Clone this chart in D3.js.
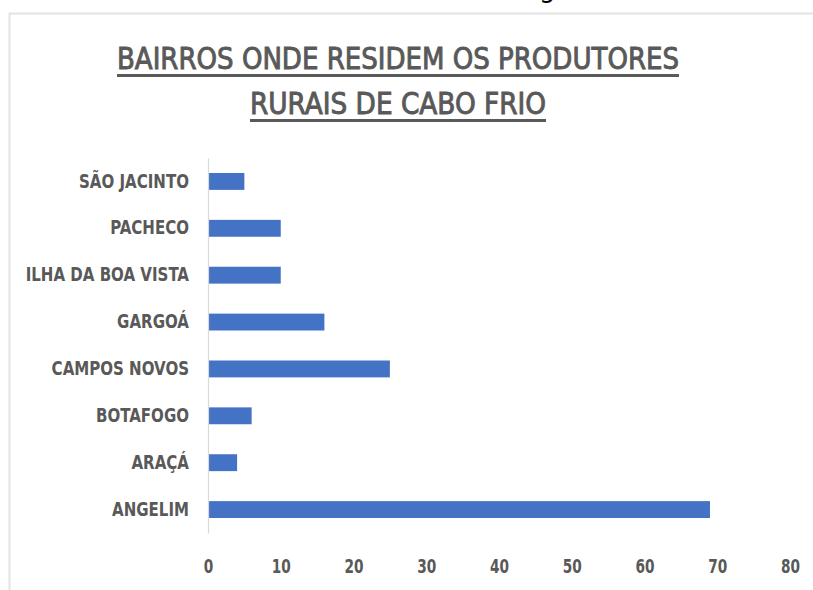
<!DOCTYPE html>
<html>
<head>
<meta charset="utf-8">
<script src="https://cdn.jsdelivr.net/npm/d3@7"></script>
<style>
  body { margin: 0; background: #fff; }
  svg { display: block; }
  .lbl { font-family: "DejaVu Sans Condensed", "Liberation Sans Narrow", sans-serif; font-weight: bold; fill: #595959; }
</style>
</head>
<body>
<svg width="813" height="590"></svg>
<script>
// Data
const categories = ["ANGELIM", "ARAÇÁ", "BOTAFOGO", "CAMPOS NOVOS", "GARGOÁ", "ILHA DA BOA VISTA", "PACHECO", "SÃO JACINTO"];
const values = [69, 4, 6, 25, 16, 10, 10, 5];
const xTicks = [0, 10, 20, 30, 40, 50, 60, 70, 80];
const titleLines = ["BAIRROS ONDE RESIDEM OS PRODUTORES", "RURAIS DE CABO FRIO"];

const data = categories.map((c, i) => ({ name: c, value: values[i] }));

const svg = d3.select("svg");

// cropped letter from the page above the chart
svg.append("text")
    .attr("x", 539)
    .attr("y", -3)
    .style("font-family", "DejaVu Sans")
    .style("font-size", "26px")
    .text("g");

// chart frame
svg.append("rect")
    .attr("x", 9.5)
    .attr("y", 13.5)
    .attr("width", 900)
    .attr("height", 700)
    .attr("fill", "none")
    .attr("stroke", "#e3e3e3")
    .attr("stroke-width", 2);

// Title
const titleWidths = [562, 296];
const titleY = [69, 114];
titleLines.forEach((t, i) => {
    svg.append("text")
        .attr("x", 398)
        .attr("y", titleY[i])
        .attr("text-anchor", "middle")
        .attr("textLength", titleWidths[i])
        .attr("lengthAdjust", "spacingAndGlyphs")
        .style("font-family", "\"DejaVu Sans Condensed\", sans-serif")
        .style("font-size", "30px")
        .style("fill", "#595959")
        .style("stroke", "#595959")
        .style("stroke-width", 0.9)
        .text(t);
    svg.append("rect")
        .attr("x", 398 - titleWidths[i] / 2)
        .attr("y", titleY[i] + 5)
        .attr("width", titleWidths[i])
        .attr("height", 3)
        .attr("fill", "#595959");
});

// Scales
const xScale = d3.scaleLinear()
    .domain([0, 80])
    .range([208, 790]);

const yScale = d3.scaleBand()
    .domain(categories.slice().reverse())
    .range([158, 533])
    .paddingInner(0.64)
    .paddingOuter(0.32);

// Bars
svg.selectAll(".bar")
    .data(data)
    .enter()
    .append("rect")
    .attr("class", "bar")
    .attr("x", xScale(0))
    .attr("y", d => yScale(d.name))
    .attr("width", d => xScale(d.value) - xScale(0))
    .attr("height", yScale.bandwidth())
    .attr("fill", "#4472c4");

// squeeze a label horizontally so it keeps its height but gets narrower
function squeeze(sel, k) {
    sel.each(function() {
        const w = this.getComputedTextLength();
        d3.select(this)
            .attr("textLength", w * k)
            .attr("lengthAdjust", "spacingAndGlyphs");
    });
}

// Y axis
const yAxis = svg.append("g")
    .attr("transform", `translate(${xScale(0)},0)`)
    .call(d3.axisLeft(yScale).tickSize(0).tickPadding(19));
yAxis.select(".domain").attr("stroke", "#d9d9d9").attr("stroke-width", 1.2);
yAxis.selectAll("text")
    .attr("class", "lbl")
    .style("font-size", "19px")
    .call(squeeze, 0.88);

// X axis
const xAxis = svg.append("g")
    .attr("transform", "translate(0,533)")
    .call(d3.axisBottom(xScale).tickValues(xTicks).tickSize(0).tickPadding(0));
xAxis.select(".domain").remove();
xAxis.selectAll("text")
    .attr("class", "lbl")
    .attr("y", 40)
    .attr("dy", 0)
    .style("font-size", "19px")
    .call(squeeze, 0.8);
</script>
</body>
</html>
